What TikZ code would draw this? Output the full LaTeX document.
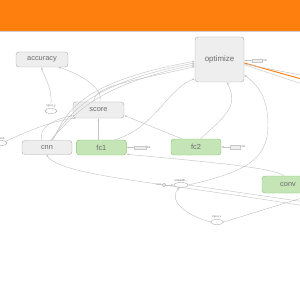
\documentclass[tikz,border=0pt]{standalone}
\usepackage{fontspec}
\setmainfont{Liberation Sans}
\usepackage{tikz}
\usetikzlibrary{arrows.meta,positioning,shapes.geometric}
\newlength\px
\setlength\px{0.03333cm}
\definecolor{tbOrange}{HTML}{FF7F0E}
\definecolor{opFill}{HTML}{EEEEEE}
\definecolor{opLine}{HTML}{B0B0B0}
\definecolor{fcFill}{HTML}{C5E5B7}
\definecolor{fcLine}{HTML}{8CC47C}
\definecolor{edgeCol}{HTML}{C4C4C4}
\definecolor{txtCol}{HTML}{6A6A6A}

\begin{document}
\begin{tikzpicture}[x=0.03333cm, y={(0cm,-0.03333cm)},
  op/.style={rectangle, draw=opLine, fill=opFill, rounded corners=3\px, inner sep=0pt,
             minimum width=50\px, minimum height=15\px, font=\fontsize{7}{7}\selectfont, text=txtCol},
  fc/.style={op, draw=fcLine, fill=fcFill},
  ell/.style={ellipse, draw=opLine, fill=white, minimum width=12\px, minimum height=5\px, inner sep=0pt},
  lbl/.style={font=\fontsize{2.6}{3}\selectfont, text=txtCol, inner sep=0.6pt},
  initbox/.style={rectangle, draw=opLine!70, fill=opFill, minimum width=10\px, minimum height=3.5\px, inner sep=0pt},
  edge/.style={draw=edgeCol, line width=0.4pt, -{Latex[length=2.2pt,width=2pt]}},
  hot/.style={draw=tbOrange, line width=0.9pt}
]
\clip (0,0) rectangle (300,300);
\fill[white] (0,0) rectangle (300,300);
\fill[tbOrange] (0,0) rectangle (300,31);
\draw[opLine!60, line width=0.5pt] (0,31.3) -- (300,31.3);

% main nodes
\node[op, minimum width=52\px] (accuracy) at (42,59.5) {accuracy};
\node[op, minimum width=49\px, minimum height=45\px, font=\fontsize{7.5}{7.5}\selectfont] (optimize) at (219.5,59.5) {optimize};
\node[op, minimum width=51\px, minimum height=16\px] (score) at (98.5,110) {score};
\node[op, minimum height=14\px] (cnn) at (47,147.5) {cnn};
\node[fc, right=4\px of cnn] (fc1) {fc1};
\node[fc, minimum height=16\px] (fc2) at (196,147) {fc2};
\node[fc, minimum width=52\px, minimum height=17\px] (conv) at (288,184.5) {conv};

% small ops
\node[ell, label={[lbl, name=inputylbl]above:input\_y}] (inputy) at (51,111) {};
\node[ell, label={[lbl, name=kplbl, anchor=south east]north east:keep\_prob}] (keepprob) at (1,143) {};
\node[ell, minimum width=14\px, label={[lbl, name=emblbl]above:embeddi...}] (embed) at (181,185) {};
\node[circle, draw=opLine, fill=white, minimum size=3.5\px, inner sep=0pt,
      label={[lbl]left:axis}] (axis) at (164,185) {};
\node[ell, minimum width=13\px, label={[lbl, name=inputxlbl]above:input\_x}] (inputx) at (217,222) {};

% init boxes
\node[initbox, right=8\px of optimize.east, yshift=-1\px, label={[lbl]right:init}] (optinit) {};
\node[initbox, minimum width=12\px, right=7\px of fc1, label={[lbl]right:init}] (fc1init) {};
\node[initbox, right=9\px of fc2, label={[lbl]right:init}] (fc2init) {};
\coordinate (offA) at (305,76);
\coordinate (offB) at (305,80);
\coordinate (offC) at (305,85);
\coordinate (offD) at (305,206);
\coordinate (offE) at (305,202);
\coordinate (offF) at (305,197);

% edges
\draw[edge] (optinit) -- (optimize.east |- optinit);
\draw[edge] (fc1init) -- (fc1.east |- fc1init);
\draw[edge] (fc2init) -- (fc2.east |- fc2init);
\draw[edge] (inputylbl.north) .. controls (52,88) and (45,78) .. (accuracy.-95);
\draw[edge] (score.80) .. controls (104,88) and (80,74) .. (accuracy.-25);
\draw[edge] (cnn.50) .. controls (66,112) and (80,82) .. (optimize.184);
\draw[edge] (cnn.58) .. controls (70,114) and (86,84) .. (optimize.188);
\draw[edge] (cnn.65) .. controls (74,116) and (92,86) .. (optimize.192);
\draw[edge] (score.120) .. controls (94,86) and (128,82) .. (optimize.196);
\draw[edge] (keepprob.20) .. controls (30,130) and (55,120) .. (score.-160);
\draw[edge] (cnn.125) .. controls (38,128) and (52,120) .. (score.-168);
\draw[edge] (fc1.north -| score.south) -- (score.south);
\draw[edge] (fc2.150) -- (score.-12);
\draw[edge] (fc1.30) .. controls (155,128) and (168,88) .. (optimize.218);
\draw[edge] (fc2.60) .. controls (222,118) and (240,108) .. (optimize.-72);
\draw[edge] (embed.east) .. controls (245,172) and (268,160) .. (268,125)
  .. controls (268,95) and (256,84) .. (optimize.-32);
\draw[edge] (conv.115) .. controls (275,168) and (210,162) .. (fc1.-15);
\draw[edge] (offD) .. controls (160,182) and (62,176) .. (cnn.-95);
\draw[edge] (embed.east) -- (offE);
\draw[edge] (inputx.east) -- (offF);
\draw[edge] (inputx.west) .. controls (185,215) and (168,200) .. (embed.-120);
\draw[edge] (axis) -- (embed.west);

% outputs of optimize
\draw[hot] (optimize.-8) -- (offB);
\draw[edgeCol, line width=0.4pt] (optimize.-10) -- (offA);
\draw[edgeCol, line width=0.4pt] (optimize.-12) -- (offC);
\end{tikzpicture}
\end{document}
